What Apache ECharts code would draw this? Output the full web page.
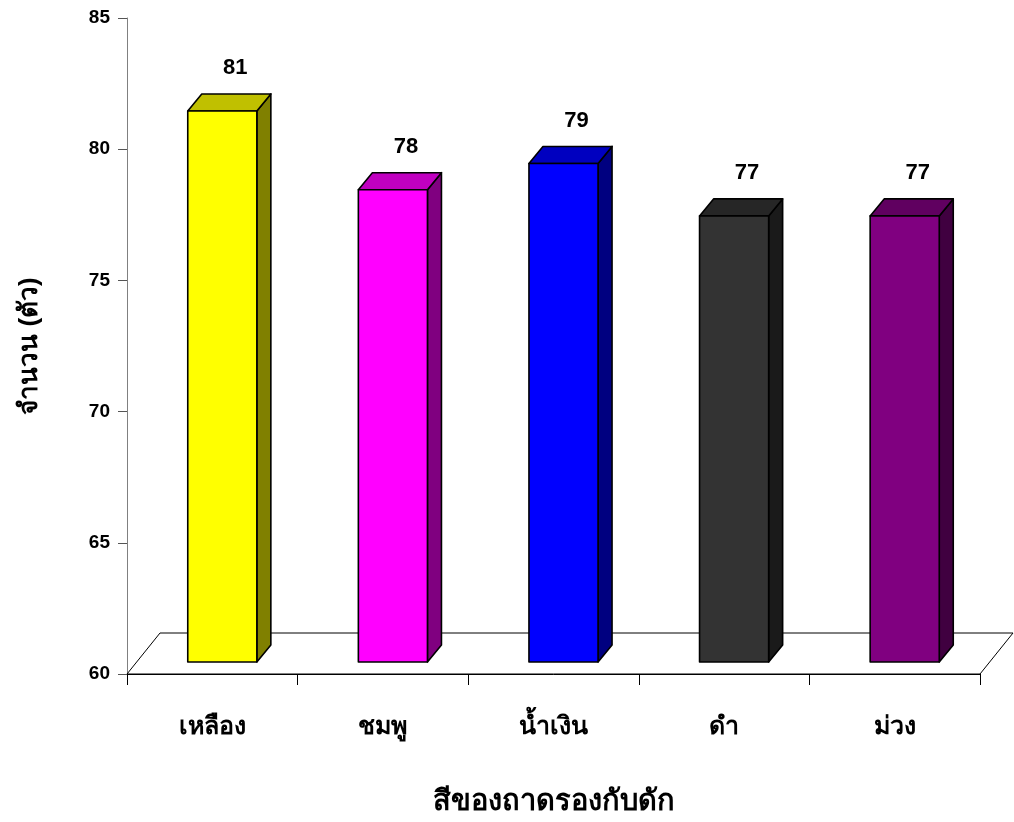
<!DOCTYPE html>
<html>
<head>
<meta charset="utf-8">
<script src="https://cdn.jsdelivr.net/npm/echarts@6/dist/echarts.min.js"></script>
<style>
  html, body { margin: 0; padding: 0; background: #fff; }
  #chart { width: 1014px; height: 822px; }
</style>
</head>
<body>
<div id="chart"></div>
<script>
// Trap colours and counts
const categories = ['เหลือง', 'ชมพู', 'น้ำเงิน', 'ดำ', 'ม่วง'];
const counts = [81, 78, 79, 77, 77];
const frontColors = ['#ffff00', '#ff00ff', '#0000ff', '#333333', '#800080'];
const topColors = ['#c0c000', '#c000c0', '#0000c0', '#262626', '#600060'];
const sideColors = ['#808000', '#800080', '#000080', '#1a1a1a', '#400040'];
const yTicks = { min: 60, max: 85, step: 5 };

const FONT = 'Arial, "Liberation Sans", "Noto Sans", sans-serif';

// Depth of the floor and of each bar, in pixels
const FLOOR_DX = 33, FLOOR_DY = 41;
const BAR_FRONT_DX = 10, BAR_FRONT_DY = 12;
const BAR_DX = 14, BAR_DY = 17;

function renderFloor(params, api) {
  const cs = params.coordSys;
  const yb = cs.y + cs.height;
  const xl = cs.x, xr = cs.x + cs.width;
  return {
    type: 'polygon',
    shape: { points: [[xl, yb], [xr, yb], [xr + FLOOR_DX, yb - FLOOR_DY], [xl + FLOOR_DX, yb - FLOOR_DY]] },
    style: { fill: '#ffffff', stroke: '#000', lineWidth: 1 },
    silent: true
  };
}

function renderBar(params, api) {
  const i = api.value(0);
  const v = api.value(1);
  const base = api.coord([i, yTicks.min]);
  const top = api.coord([i, v]);
  const band = api.size([1, 0])[0];
  const w = band * 0.405;
  const x0 = base[0] + BAR_FRONT_DX - w / 2;
  const x1 = x0 + w;
  const yb = base[1] - BAR_FRONT_DY;
  const yt = top[1] - BAR_FRONT_DY;
  const stroke = { stroke: '#000', lineWidth: 1.6, lineJoin: 'round' };
  return {
    type: 'group',
    children: [
      {
        type: 'polygon',
        shape: { points: [[x1, yt], [x1 + BAR_DX, yt - BAR_DY], [x1 + BAR_DX, yb - BAR_DY], [x1, yb]] },
        style: Object.assign({ fill: sideColors[i] }, stroke)
      },
      {
        type: 'polygon',
        shape: { points: [[x0, yt], [x1, yt], [x1 + BAR_DX, yt - BAR_DY], [x0 + BAR_DX, yt - BAR_DY]] },
        style: Object.assign({ fill: topColors[i] }, stroke)
      },
      {
        type: 'rect',
        shape: { x: x0, y: yt, width: w, height: yb - yt },
        style: Object.assign({ fill: frontColors[i] }, stroke)
      },
      {
        type: 'text',
        x: x0 + BAR_DX + w / 2 - 1,
        y: yt - BAR_DY - 26,
        style: {
          text: String(v),
          fill: '#000',
          font: 'bold 22px ' + FONT,
          align: 'center',
          verticalAlign: 'middle'
        }
      }
    ]
  };
}

const chart = echarts.init(document.getElementById('chart'), null, { renderer: 'canvas' });
chart.setOption({
  backgroundColor: '#ffffff',
  animation: false,
  grid: { left: 127, right: 34, top: 18, bottom: 148, containLabel: false, outerBoundsMode: 'none' },
  xAxis: {
    type: 'category',
    data: categories,
    name: 'สีของถาดรองกับดัก',
    nameLocation: 'middle',
    nameGap: 113,
    nameTextStyle: { fontFamily: FONT, fontWeight: 'bold', fontSize: 29, color: '#000' },
    axisLine: { show: true, lineStyle: { color: '#000', width: 1 } },
    axisTick: { show: true, length: 11, alignWithLabel: false, lineStyle: { color: '#000' } },
    axisLabel: { margin: 41, fontFamily: FONT, fontWeight: 'bold', fontSize: 25, color: '#000' },
    splitLine: { show: false }
  },
  yAxis: {
    type: 'value',
    min: yTicks.min,
    max: yTicks.max,
    interval: yTicks.step,
    name: 'จำนวน (ตัว)',
    nameLocation: 'middle',
    nameGap: 84,
    nameTextStyle: { fontFamily: FONT, fontWeight: 'bold', fontSize: 26, color: '#000' },
    axisLine: { show: true, lineStyle: { color: '#808080', width: 1 } },
    axisTick: { show: true, length: 9, lineStyle: { color: '#555' } },
    axisLabel: { margin: 17, fontFamily: FONT, fontWeight: 'bold', fontSize: 19, color: '#000' },
    splitLine: { show: false }
  },
  series: [
    {
      type: 'custom',
      renderItem: renderFloor,
      data: [[0, yTicks.min]],
      z: 1,
      silent: true
    },
    {
      type: 'custom',
      renderItem: renderBar,
      data: counts.map((c, i) => [i, c]),
      z: 3,
      silent: true
    }
  ]
});
</script>
</body>
</html>
